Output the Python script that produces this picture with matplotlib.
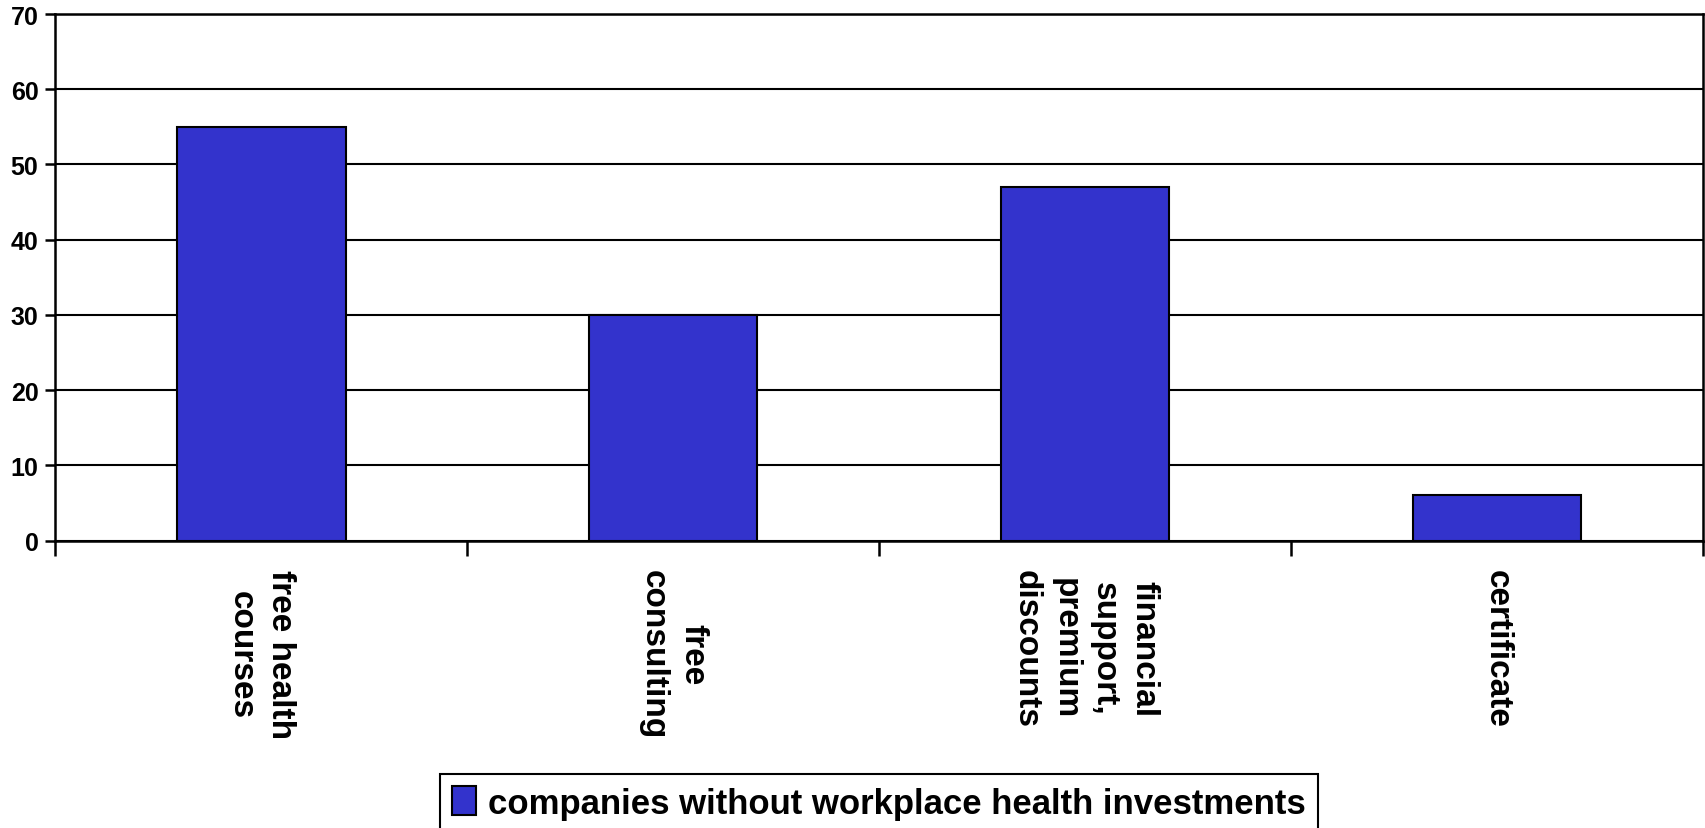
import matplotlib.pyplot as plt
from matplotlib.ticker import FixedLocator
import numpy as np

categories = ["free health\ncourses", "free\nconsulting",
              "financial\nsupport,\npremium\ndiscounts", "certificate"]
values = [55, 30, 47, 6]
series_name = "companies without workplace health investments"
y_ticks = [0, 10, 20, 30, 40, 50, 60, 70]

plt.rcParams["font.family"] = ["Liberation Sans", "DejaVu Sans"]
plt.rcParams["font.weight"] = "bold"

fig = plt.figure(figsize=(17.05, 8.29), dpi=100)
ax = fig.add_axes([0.0323, 0.3468, 0.9665, 0.6351])

x = np.arange(len(categories))
bars = ax.bar(x, values, width=0.41, color="#3333CC", edgecolor="black",
              linewidth=1.5, label=series_name, zorder=3)

ax.set_xlim(-0.5, len(categories) - 0.5)
ax.set_ylim(0, 70)
ax.set_yticks(y_ticks)
ax.yaxis.grid(True, color="black", linewidth=1.5, zorder=0)
ax.set_axisbelow(True)

for side in ["left", "right", "top", "bottom"]:
    ax.spines[side].set_color("black")
    ax.spines[side].set_linewidth(1.8)

ax.tick_params(axis="y", length=7, width=1.8, pad=5, labelsize=18)
for lbl in ax.get_yticklabels():
    lbl.set_fontweight("bold")

ax.set_xticks(x)
ax.set_xticklabels([])
ax.tick_params(axis="x", which="major", length=0)
ax.xaxis.set_minor_locator(FixedLocator(np.arange(-0.5, len(categories), 1.0)))
ax.tick_params(axis="x", which="minor", length=11, width=1.8)

for xi, cat in zip(x, categories):
    ax.text(xi, -3.8, cat, rotation=270, ha="center", va="top",
            multialignment="center", fontsize=24, fontweight="bold",
            linespacing=1.35, transform=ax.transData, clip_on=False)

leg = fig.legend(handles=[bars], labels=[series_name], loc="upper center",
                 bbox_to_anchor=(0.5155, 0.065), frameon=True, fancybox=False,
                 edgecolor="black", framealpha=1,
                 prop={"weight": "bold", "size": 25},
                 handlelength=0.7, handleheight=0.9, handletextpad=0.35,
                 borderpad=0.35, borderaxespad=0)
leg.get_frame().set_linewidth(1.5)

fig.savefig("out.png", dpi=100)
